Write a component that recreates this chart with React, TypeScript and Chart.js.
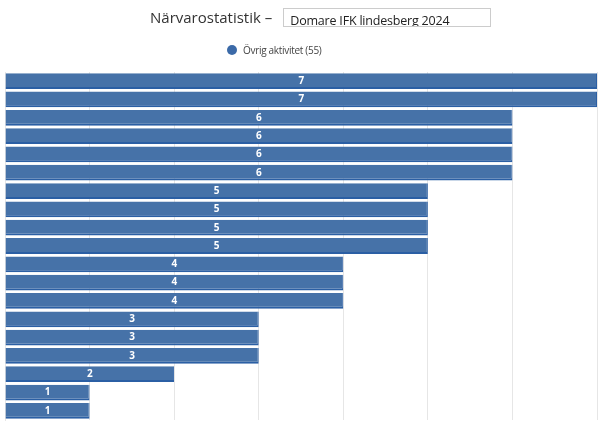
import React, { useEffect, useRef } from "react";
import { Chart, registerables } from "chart.js";

Chart.register(...registerables);

const categories: string[] = [
  "A1", "A2", "A3", "A4", "A5", "A6", "A7", "A8", "A9", "A10",
  "A11", "A12", "A13", "A14", "A15", "A16", "A17", "A18", "A19",
];
const values: number[] = [7, 7, 6, 6, 6, 6, 5, 5, 5, 5, 4, 4, 4, 3, 3, 3, 2, 1, 1];
const seriesLabel = "Övrig aktivitet (55)";
const titleText = "Närvarostatistik –";
const inputText = "Domare IFK lindesberg 2024";
const xMin = 0;
const xMax = 7;
const barColor = "#4672a8";

const valueLabelPlugin = {
  id: "valueLabels",
  afterDatasetsDraw(chart: any) {
    const ctx = chart.ctx;
    ctx.save();
    ctx.fillStyle = "#ffffff";
    ctx.font = "bold 10px 'Open Sans', sans-serif";
    ctx.textAlign = "center";
    ctx.textBaseline = "middle";
    chart.data.datasets.forEach((ds: any, di: number) => {
      const meta = chart.getDatasetMeta(di);
      meta.data.forEach((el: any, i: number) => {
        ctx.fillText(String(ds.data[i]), (el.base + el.x) / 2, el.y);
      });
    });
    ctx.restore();
  },
};

export default function App() {
  const ref = useRef<HTMLCanvasElement | null>(null);
  useEffect(() => {
    if (!ref.current) return;
    const chart = new Chart(ref.current, {
      type: "bar",
      data: {
        labels: categories,
        datasets: [
          {
            label: seriesLabel,
            data: values,
            backgroundColor: barColor,
            borderColor: "#2b5fa4",
            borderWidth: { top: 0, right: 1, bottom: 2, left: 0 },
            borderSkipped: false,
            barPercentage: 0.86,
            categoryPercentage: 1,
          },
        ],
      },
      options: {
        indexAxis: "y",
        animation: false,
        responsive: false,
        maintainAspectRatio: false,
        layout: { padding: { top: 72, left: 5, right: 3, bottom: 3 } },
        plugins: {
          title: { display: false },
          tooltip: { enabled: false },
          legend: { display: false },
        },
        scales: {
          x: {
            min: xMin,
            max: xMax,
            ticks: { display: false, stepSize: 1 },
            grid: { color: "#e6e6e6", drawTicks: false },
            border: { display: false },
          },
          y: {
            ticks: { display: false },
            grid: { display: false, drawTicks: false },
            border: { display: true, color: "#e6e6e6" },
          },
        },
      },
      plugins: [valueLabelPlugin],
    });
    return () => chart.destroy();
  }, []);

  return (
    <div
      style={{
        position: "fixed",
        left: 0,
        top: 0,
        width: 600,
        height: 423,
        background: "#ffffff",
        overflow: "hidden",
      }}
    >
      <canvas ref={ref} width={600} height={423} style={{ position: "absolute", left: 0, top: 0, width: 600, height: 423 }} />
      <div
        style={{
          position: "absolute",
          left: 150,
          top: 7,
          height: 20,
          display: "flex",
          alignItems: "center",
          fontFamily: "'Open Sans', sans-serif",
          color: "#333333",
        }}
      >
        <span style={{ fontSize: 15, marginRight: 11 }}>{titleText}</span>
        <div
          style={{
            width: 208,
            height: 19,
            border: "1px solid #cccccc",
            fontSize: 12.5,
            lineHeight: "24px",
            paddingLeft: 6,
            boxSizing: "border-box",
            overflow: "hidden",
            color: "#222222",
            background: "#ffffff",
            letterSpacing: -0.2,
          }}
        >
          {inputText}
        </div>
      </div>
      <div
        style={{
          position: "absolute",
          left: 227,
          top: 43,
          height: 14,
          display: "flex",
          alignItems: "center",
          fontFamily: "'Open Sans', sans-serif",
          fontSize: 10,
          color: "#444444",
          letterSpacing: -0.3,
        }}
      >
        <span
          style={{
            display: "inline-block",
            width: 10,
            height: 10,
            borderRadius: 5,
            background: "#3b6aa8",
            marginRight: 6,
          }}
        />
        <span>{seriesLabel}</span>
      </div>
    </div>
  );
}
